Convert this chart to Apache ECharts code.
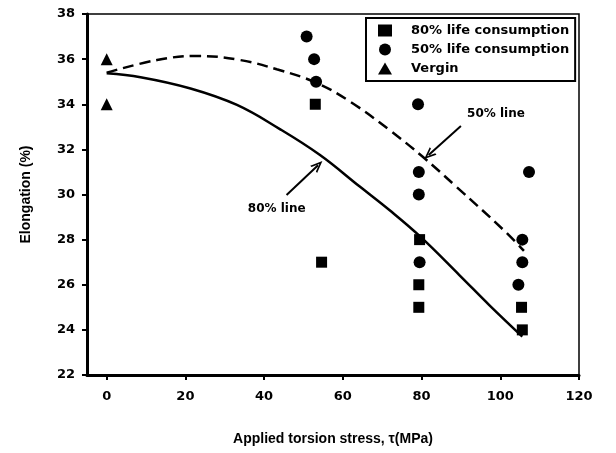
<!DOCTYPE html>
<html>
<head>
<meta charset="utf-8">
<script src="https://cdn.jsdelivr.net/npm/echarts@6/dist/echarts.min.js"></script>
<style>
html,body{margin:0;padding:0;background:#fff;}
#c{width:616px;height:453px;}
</style>
</head>
<body>
<div id="c"></div>
<script>
// ---- data ----
var xTicks = [0, 20, 40, 60, 80, 100, 120];
var yTicks = [22, 24, 26, 28, 30, 32, 34, 36, 38];
var life80 = [[53, 34], [54.6, 27], [79.5, 28], [79.3, 26], [79.3, 25], [105.4, 25], [105.6, 24]];
var life50 = [[50.8, 37], [52.7, 36], [53.2, 35], [79.1, 34], [79.3, 31], [79.3, 30], [79.5, 27], [107.3, 31], [105.6, 28], [105.6, 27], [104.6, 26]];
var vergin = [[0, 36], [0, 34]];
var line80X = [0, 8.6, 21.3, 33.1, 44, 54.2, 64.3, 71.9, 79.7, 89.6, 97.2, 105.6];
var line80Y = [35.37, 35.2, 34.7, 33.97, 32.9, 31.75, 30.35, 29.3, 28.13, 26.43, 25.1, 23.7];
var line50X = [0, 12.8, 22.9, 33.9, 43.2, 53.3, 62, 71.9, 80.3, 88.8, 101, 106];
var line50Y = [35.4, 35.96, 36.14, 35.96, 35.55, 34.95, 34.1, 32.85, 31.67, 30.35, 28.4, 27.5];
var labels = ['80% life consumption', '50% life consumption', 'Vergin'];
var note80 = {text: '80% line', at: [43.2, 29.36], from: [45.7, 29.98], to: [53.7, 31.3]};
var note50 = {text: '50% line', at: [98.9, 33.56], from: [90.0, 33.04], to: [81.8, 31.75]};

function zip(xs, ys) { return xs.map(function (x, i) { return [x, ys[i]]; }); }

var txt = {fontFamily: 'DejaVu Sans', fontWeight: 'bold', color: '#000'};
var txtL = {fontFamily: 'Liberation Sans', fontWeight: 'bold', color: '#000'};
var arrowHead = 'path://M5,0 L10,10 L8.2,10 L5,3.5 L1.8,10 L0,10 Z';

function noteMark(n) {
  return {
    markLine: {
      silent: true,
      symbol: ['none', arrowHead],
      symbolSize: [10, 12],
      lineStyle: {color: '#000', width: 2, type: 'solid'},
      label: {show: false},
      data: [[{coord: n.from}, {coord: n.to}]]
    },
    markPoint: {
      silent: true,
      symbol: 'circle', symbolSize: 0,
      label: Object.assign({show: true, formatter: n.text, fontSize: 12, position: 'inside'}, txt),
      data: [{coord: n.at}]
    }
  };
}

var chart = echarts.init(document.getElementById('c'));
chart.setOption({
  animation: false,
  backgroundColor: '#fff',
  grid: {left: 87, right: 37, top: 14, bottom: 78, show: true, borderColor: '#000', borderWidth: 1.5},
  legend: {
    data: labels,
    orient: 'vertical',
    left: 366, top: 18,
    padding: [6, 6, 6, 12],
    itemGap: 6,
    itemWidth: 14, itemHeight: 12,
    borderColor: '#000', borderWidth: 2,
    textStyle: Object.assign({fontSize: 13, padding: [0, 0, 0, 14]}, txt)
  },
  xAxis: {
    type: 'value', min: -5, max: 120,
    name: 'Applied torsion stress, τ(MPa)',
    nameLocation: 'middle', nameGap: 57,
    nameTextStyle: Object.assign({fontSize: 14}, txtL),
    axisLine: {onZero: false, lineStyle: {color: '#000', width: 3}},
    axisTick: {show: true, customValues: xTicks, length: 5, lineStyle: {color: '#000', width: 2}},
    axisLabel: Object.assign({customValues: xTicks, fontSize: 13, margin: 15}, txt),
    splitLine: {show: false}
  },
  yAxis: {
    type: 'value', min: 22, max: 38, interval: 2,
    name: 'Elongation (%)',
    nameLocation: 'middle', nameGap: 54, nameRotate: 90,
    nameTextStyle: Object.assign({fontSize: 14}, txtL),
    axisLine: {onZero: false, lineStyle: {color: '#000', width: 3}},
    axisTick: {show: true, length: 5, lineStyle: {color: '#000', width: 2}},
    axisLabel: Object.assign({fontSize: 13, margin: 12}, txt),
    splitLine: {show: false}
  },
  series: [
    Object.assign({
      name: '80% line', type: 'line', data: zip(line80X, line80Y), smooth: 0.4,
      showSymbol: false, lineStyle: {color: '#000', width: 2.5}, silent: true, z: 3
    }, noteMark(note80)),
    Object.assign({
      name: '50% line', type: 'line', data: zip(line50X, line50Y), smooth: 0.4,
      showSymbol: false, lineStyle: {color: '#000', width: 2.5, type: [11, 6]}, silent: true, z: 3
    }, noteMark(note50)),
    {name: labels[0], type: 'scatter', symbol: 'rect', symbolSize: 11, data: life80, itemStyle: {color: '#000', opacity: 1}, z: 4},
    {name: labels[1], type: 'scatter', symbol: 'circle', symbolSize: 12, data: life50, itemStyle: {color: '#000', opacity: 1}, z: 4},
    {name: labels[2], type: 'scatter', symbol: 'triangle', symbolSize: 12, data: vergin, itemStyle: {color: '#000', opacity: 1}, z: 4}
  ]
});
</script>
</body>
</html>
